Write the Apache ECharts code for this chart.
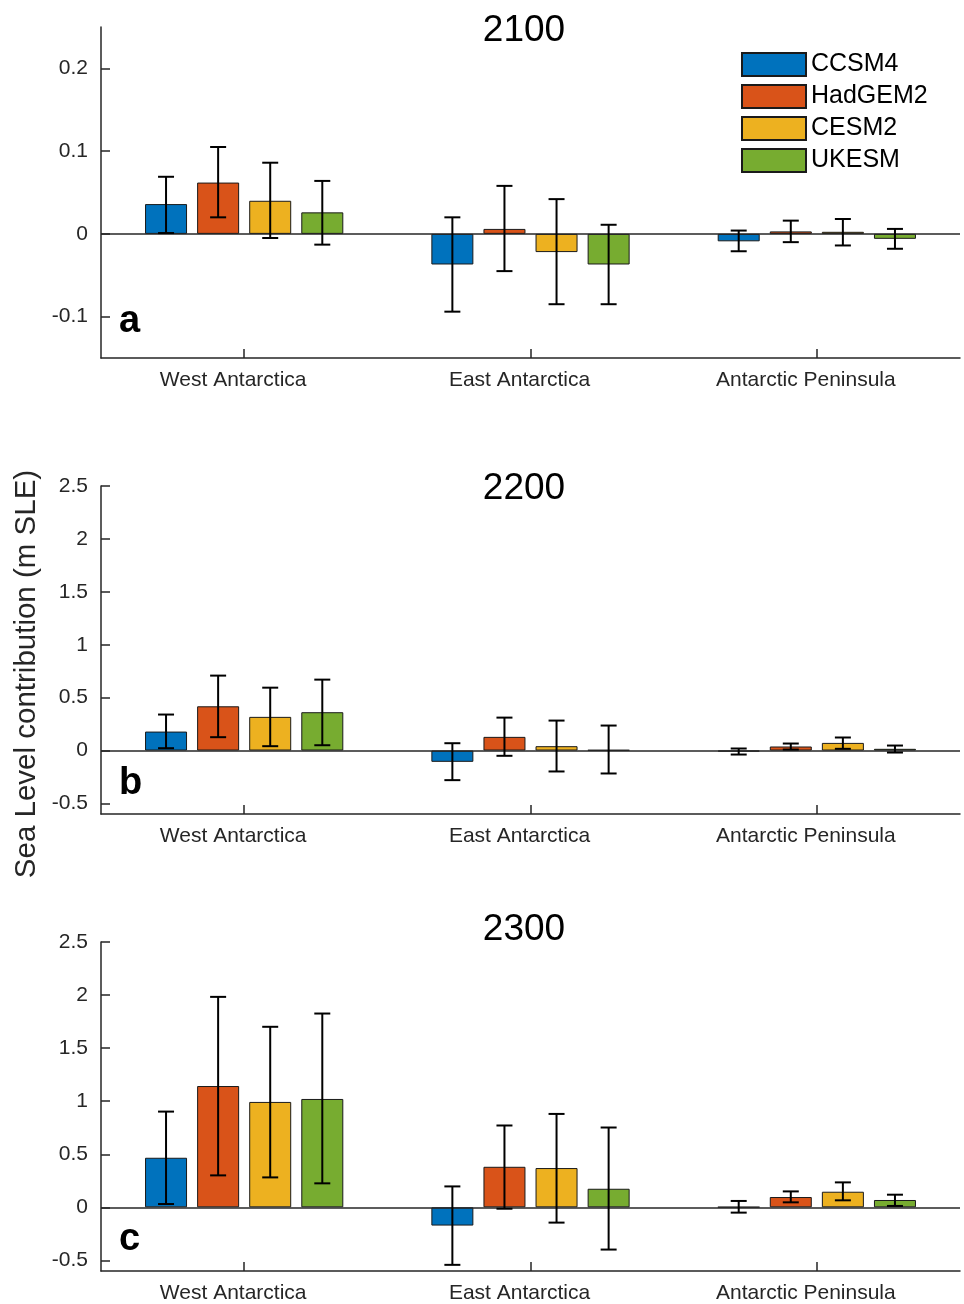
<!DOCTYPE html>
<html>
<head>
<meta charset="utf-8">
<script src="https://cdn.jsdelivr.net/npm/echarts@6/dist/echarts.min.js"></script>
<style>html,body{margin:0;padding:0;background:#fff}#chart{width:964px;height:1304px}</style>
</head>
<body>
<div id="chart"></div>
<script>
var categories = ['West Antarctica', 'East Antarctica', 'Antarctic Peninsula'];
var models = ['CCSM4', 'HadGEM2', 'CESM2', 'UKESM'];
var colors = ['#0072BD', '#D95319', '#EDB120', '#77AC30'];
var panelTitles = ['2100', '2200', '2300'];
var panelLetters = ['a', 'b', 'c'];

// 2100: values per model across the three regions
var mean2100 = [[0.036, -0.037, -0.009], [0.062, 0.006, 0.003], [0.040, -0.022, 0.0025], [0.026, -0.037, -0.006]];
var low2100  = [[0.001, -0.094, -0.021], [0.020, -0.045, -0.010], [-0.005, -0.085, -0.014], [-0.013, -0.085, -0.018]];
var high2100 = [[0.069, 0.020, 0.004], [0.105, 0.058, 0.016], [0.086, 0.042, 0.018], [0.064, 0.011, 0.006]];

// 2200
var mean2200 = [[0.179, -0.107, -0.010], [0.418, 0.129, 0.038], [0.318, 0.041, 0.072], [0.362, 0.005, 0.016]];
var low2200  = [[0.022, -0.280, -0.038], [0.126, -0.050, 0.009], [0.041, -0.198, 0.016], [0.050, -0.217, -0.019]];
var high2200 = [[0.340, 0.069, 0.019], [0.708, 0.311, 0.066], [0.594, 0.283, 0.123], [0.670, 0.236, 0.047]];

// 2300
var mean2300 = [[0.467, -0.172, 0.003], [1.143, 0.382, 0.097], [0.993, 0.370, 0.147], [1.021, 0.175, 0.069]];
var low2300  = [[0.031, -0.542, -0.050], [0.301, -0.013, 0.047], [0.282, -0.144, 0.066], [0.226, -0.398, 0.013]];
var high2300 = [[0.902, 0.197, 0.060], [1.983, 0.771, 0.150], [1.701, 0.880, 0.235], [1.826, 0.752, 0.119]];

var yTicksA = [-0.1, 0, 0.1, 0.2];
var yTicksBC = [-0.5, 0, 0.5, 1, 1.5, 2, 2.5];
var yRanges = [[-0.15, 0.25], [-0.6, 2.5], [-0.6, 2.5]];

var means = [mean2100, mean2200, mean2300];
var lows = [low2100, low2200, low2300];
var highs = [high2100, high2200, high2300];
var yTicks = [yTicksA, yTicksBC, yTicksBC];

var FONT = 'Liberation Sans, Arial, Helvetica, sans-serif';
var AX = '#262626';
var BAR_W = 0.1467;   // fraction of the category band
var BAR_GAP = 0.24;   // gap relative to bar width

var grids = [
  {left: 101, right: 4, top: 27, height: 331},
  {left: 101, right: 4, top: 486, height: 328},
  {left: 101, right: 4, top: 942, height: 329}
];

var xAxes = [], yAxes = [], series = [];
for (var p = 0; p < 3; p++) {
  xAxes.push({
    type: 'category', gridIndex: p, data: categories,
    axisLine: {show: true, onZero: false, lineStyle: {color: AX, width: 1.5}},
    axisTick: {show: true, interval: 0, inside: true, alignWithLabel: true, length: 9, lineStyle: {color: AX, width: 1.5}},
    axisLabel: {color: AX, fontSize: 21, fontFamily: FONT, margin: 12, padding: [0, 22, 0, 0]},
    splitLine: {show: false}
  });
  yAxes.push({
    type: 'value', gridIndex: p, min: yRanges[p][0], max: yRanges[p][1],
    axisLine: {show: true, lineStyle: {color: AX, width: 1.5}},
    axisTick: {show: true, inside: true, length: 9, customValues: yTicks[p], lineStyle: {color: AX, width: 1.5}},
    axisLabel: {color: AX, fontSize: 21, fontFamily: FONT, margin: 13, customValues: yTicks[p]},
    splitLine: {show: false}
  });
  for (var m = 0; m < 4; m++) {
    var s = {
      type: 'bar', name: models[m], xAxisIndex: p, yAxisIndex: p,
      data: means[p][m],
      barWidth: (BAR_W * 100) + '%', barGap: (BAR_GAP * 100) + '%',
      itemStyle: {color: colors[m], borderColor: '#1a1a1a', borderWidth: 1},
      emphasis: {disabled: true}, silent: true, z: 2
    };
    if (m === 0) {
      s.markLine = {
        silent: true, symbol: ['none', 'none'], label: {show: false},
        lineStyle: {color: AX, width: 1.5, type: 'solid'},
        data: [{yAxis: 0}], z: 3, animation: false
      };
    }
    series.push(s);
  }
  for (var m2 = 0; m2 < 4; m2++) {
    var ed = [];
    for (var c = 0; c < categories.length; c++) ed.push([c, lows[p][m2][c], highs[p][m2][c]]);
    (function (k) {
      series.push({
        type: 'custom', name: models[k] + ' err', xAxisIndex: p, yAxisIndex: p,
        data: ed, z: 5, silent: true,
        encode: {x: 0, y: [1, 2]},
        renderItem: function (params, api) {
          var band = api.size([1, 0])[0];
          var bw = band * BAR_W;
          var pitch = bw * (1 + BAR_GAP);
          var off = (k - 1.5) * pitch;
          var lo = api.coord([api.value(0), api.value(1)]);
          var hi = api.coord([api.value(0), api.value(2)]);
          var x = lo[0] + off;
          var cap = 8;
          var st = {stroke: '#000', lineWidth: 2};
          return {type: 'group', children: [
            {type: 'line', shape: {x1: x, y1: lo[1], x2: x, y2: hi[1]}, style: st},
            {type: 'line', shape: {x1: x - cap, y1: lo[1], x2: x + cap, y2: lo[1]}, style: st},
            {type: 'line', shape: {x1: x - cap, y1: hi[1], x2: x + cap, y2: hi[1]}, style: st}
          ]};
        }
      });
    })(m2);
  }
}

var titleY = [31, 489, 930];
var letterY = [322, 784, 1240];
var graphics = [];
for (var q = 0; q < 3; q++) {
  graphics.push({type: 'text', x: 524, y: titleY[q], style: {text: panelTitles[q], font: '37px ' + FONT, fill: '#000', textAlign: 'center', textVerticalAlign: 'middle'}});
  graphics.push({type: 'text', x: 119, y: letterY[q], style: {text: panelLetters[q], font: 'bold 38px ' + FONT, fill: '#000', textAlign: 'left', textVerticalAlign: 'middle'}});
}
graphics.push({type: 'text', x: 27, y: 674, rotation: Math.PI / 2, style: {text: 'Sea Level contribution (m SLE)', font: '29.5px ' + FONT, fill: AX, textAlign: 'center', textVerticalAlign: 'middle'}});

var chart = echarts.init(document.getElementById('chart'), null, {renderer: 'canvas'});
chart.setOption({
  animation: false,
  backgroundColor: '#fff',
  grid: grids,
  xAxis: xAxes,
  yAxis: yAxes,
  legend: {
    data: models, orient: 'vertical', left: 741, top: 52, padding: 0,
    itemWidth: 64, itemHeight: 23, itemGap: 7, icon: 'rect',
    textStyle: {fontSize: 25, fontFamily: FONT, color: '#000', lineHeight: 23},
    selectedMode: false
  },
  graphic: graphics,
  series: series
});
</script>
</body>
</html>
